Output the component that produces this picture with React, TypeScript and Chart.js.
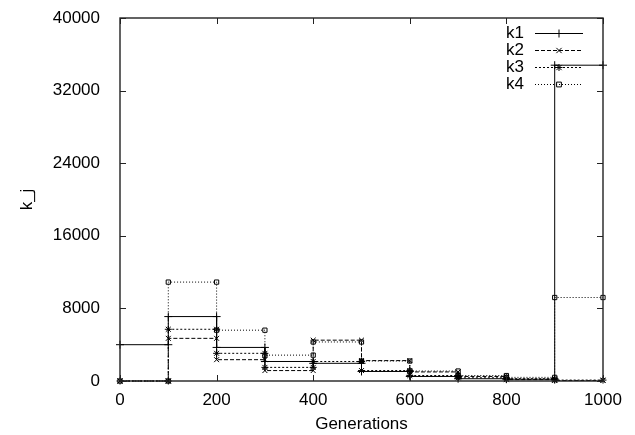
import { useEffect, useRef } from 'react';
import { Chart, registerables } from 'chart.js';

Chart.register(...registerables);

// Interval boundaries (generations)
const generations = [0, 100, 200, 300, 400, 500, 600, 700, 800, 900, 1000];
// Value held over each interval [g_i, g_i+1]
const k1 = [4000, 7100, 3700, 2150, 1950, 1050, 500, 250, 200, 34800];
const k2 = [0, 4700, 2350, 1150, 4500, 2250, 1000, 500, 150, 50];
const k3 = [0, 5700, 3050, 1500, 2150, 1150, 600, 350, 250, 100];
const k4 = [0, 10900, 5600, 2850, 4300, 2200, 1100, 600, 400, 9200];

const seriesNames = ['k1', 'k2', 'k3', 'k4'];
const xTicks = [0, 200, 400, 600, 800, 1000];
const yTicks = [0, 8000, 16000, 24000, 32000, 40000];

const FONT = '"Liberation Sans", Arial, Helvetica, sans-serif';

function stepPoints(vals: number[]) {
  const pts: { x: number; y: number }[] = [];
  vals.forEach((v, i) => {
    pts.push({ x: generations[i], y: v });
    pts.push({ x: generations[i + 1], y: v });
  });
  return pts;
}

function drawMarker(ctx: CanvasRenderingContext2D, style: string, x: number, y: number, r: number) {
  ctx.beginPath();
  if (style === 'cross') {
    ctx.moveTo(x - r, y); ctx.lineTo(x + r, y);
    ctx.moveTo(x, y - r); ctx.lineTo(x, y + r);
  } else if (style === 'crossRot') {
    const d = r * 0.75;
    ctx.moveTo(x - d, y - d); ctx.lineTo(x + d, y + d);
    ctx.moveTo(x - d, y + d); ctx.lineTo(x + d, y - d);
  } else if (style === 'star') {
    const d = r * 0.75;
    ctx.moveTo(x - r, y); ctx.lineTo(x + r, y);
    ctx.moveTo(x, y - r); ctx.lineTo(x, y + r);
    ctx.moveTo(x - d, y - d); ctx.lineTo(x + d, y + d);
    ctx.moveTo(x - d, y + d); ctx.lineTo(x + d, y - d);
  } else {
    ctx.rect(x - r * 0.8, y - r * 0.8, r * 1.6, r * 1.6);
  }
  ctx.stroke();
}

const framePlugin = {
  id: 'gnuFrame',
  afterDraw(chart: any) {
    const { ctx, chartArea: a } = chart;
    const xs = chart.scales.x;
    const ys = chart.scales.y;
    ctx.save();
    ctx.strokeStyle = '#222';
    ctx.lineWidth = 1.4;
    ctx.setLineDash([]);
    ctx.strokeRect(a.left, a.top, a.right - a.left, a.bottom - a.top);
    const tl = 6;
    ctx.lineWidth = 1;
    ctx.beginPath();
    xTicks.forEach((t) => {
      const px = Math.round(xs.getPixelForValue(t)) + 0.5;
      ctx.moveTo(px, a.bottom); ctx.lineTo(px, a.bottom - tl);
      ctx.moveTo(px, a.top); ctx.lineTo(px, a.top + tl);
    });
    yTicks.forEach((t) => {
      const py = Math.round(ys.getPixelForValue(t)) + 0.5;
      ctx.moveTo(a.left, py); ctx.lineTo(a.left + tl, py);
      ctx.moveTo(a.right, py); ctx.lineTo(a.right - tl, py);
    });
    ctx.stroke();

    // Key (gnuplot style: text then sample)
    ctx.font = `17px ${FONT}`;
    ctx.fillStyle = '#000';
    ctx.textAlign = 'right';
    ctx.textBaseline = 'middle';
    chart.data.datasets.forEach((ds: any, i: number) => {
      const y = a.top + 15 + i * 17;
      const textX = a.right - 79;
      ctx.fillText(ds.label, textX, y);
      const x0 = a.right - 68;
      const x1 = a.right - 20;
      ctx.strokeStyle = '#000';
      ctx.lineWidth = 1;
      ctx.setLineDash(ds.borderDash || []);
      ctx.beginPath();
      ctx.moveTo(x0, Math.round(y) + 0.5);
      ctx.lineTo(x1, Math.round(y) + 0.5);
      ctx.stroke();
      ctx.setLineDash([]);
      drawMarker(ctx, ds.pointStyle, (x0 + x1) / 2, Math.round(y) + 0.5, ds.pointRadius);
    });
    ctx.restore();
  },
};

export default function App() {
  const ref = useRef<HTMLCanvasElement | null>(null);

  useEffect(() => {
    document.body.style.margin = '0';
    if (!ref.current) return;
    const series = [k1, k2, k3, k4];
    const dashes = [[], [4, 2], [2, 2], [1, 2]];
    const styles = ['cross', 'crossRot', 'star', 'rect'];
    const radii = [4, 3.5, 3.5, 3];
    const chart = new Chart(ref.current, {
      type: 'line',
      data: {
        datasets: series.map((vals, i) => ({
          label: seriesNames[i],
          data: stepPoints(vals),
          borderColor: '#000',
          borderWidth: 1,
          borderDash: dashes[i],
          pointStyle: styles[i] as any,
          pointRadius: radii[i],
          pointBorderColor: '#000',
          pointBackgroundColor: 'rgba(0,0,0,0)',
          pointBorderWidth: 1,
          tension: 0,
          fill: false,
          clip: false as any,
        })),
      },
      options: {
        responsive: false,
        animation: false,
        layout: { padding: { left: 0, right: 32, top: 18, bottom: 0 } },
        plugins: {
          legend: { display: false },
          tooltip: { enabled: false },
        },
        scales: {
          x: {
            type: 'linear',
            min: 0,
            max: 1000,
            afterFit: (s: any) => { s.height = 54; s.paddingLeft = 0; s.paddingRight = 0; },
            afterBuildTicks: (s: any) => { s.ticks = xTicks.map((v) => ({ value: v })); },
            grid: { display: false },
            border: { display: false },
            ticks: {
              color: '#000',
              padding: 1,
              font: { family: FONT, size: 17 },
              callback: (v: any) => String(v),
            },
            title: {
              display: true,
              text: 'Generations',
              color: '#000',
              font: { family: FONT, size: 17 },
              padding: { top: 0, bottom: 0 },
            },
          },
          y: {
            type: 'linear',
            min: 0,
            max: 40000,
            afterFit: (s: any) => { s.width = 120; s.paddingTop = 0; s.paddingBottom = 0; },
            afterBuildTicks: (s: any) => { s.ticks = yTicks.map((v) => ({ value: v })); },
            grid: { display: false },
            border: { display: false },
            ticks: {
              color: '#000',
              padding: 12,
              font: { family: FONT, size: 17 },
              callback: (v: any) => String(v),
            },
            title: {
              display: true,
              text: 'k_j',
              color: '#000',
              font: { family: FONT, size: 17 },
              padding: { top: 17, bottom: 0 },
            },
          },
        },
      },
      plugins: [framePlugin],
    });
    return () => chart.destroy();
  }, []);

  return (
    <div style={{ width: 635, height: 435, background: '#fff' }}>
      <canvas ref={ref} width={635} height={435} />
    </div>
  );
}
